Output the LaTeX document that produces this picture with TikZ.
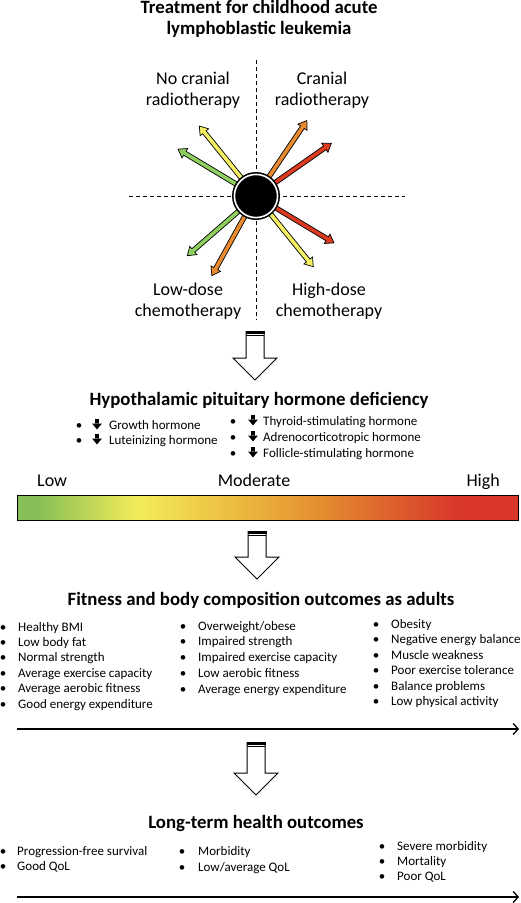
\documentclass[tikz,border=0pt]{standalone}
\usepackage{fontspec}
\setmainfont{Carlito}
\usetikzlibrary{arrows.meta}
\definecolor{cgreen}{HTML}{86BF55}
\definecolor{cyel}{HTML}{F3EC5A}
\definecolor{cyor}{HTML}{EBB83E}
\definecolor{corange}{HTML}{E3892F}
\definecolor{cred}{HTML}{D8372A}
\definecolor{agreen}{HTML}{8FCF5F}
\definecolor{ayel}{HTML}{F5F063}
\definecolor{aorange}{HTML}{E88A2F}
\definecolor{ared}{HTML}{DC3B1F}
\pgfdeclarehorizontalshading{heat}{100bp}{color(0bp)=(cgreen); color(27bp)=(cgreen); color(37bp)=(cyel); color(47.5bp)=(cyor); color(56bp)=(corange); color(69bp)=(cred); color(100bp)=(cred)}
\tikzset{
  heading/.style={font=\fontsize{18.8}{22}\selectfont\bfseries, inner sep=0pt, anchor=base},
  quad/.style={font=\fontsize{18}{21}\selectfont, inner sep=0pt, anchor=base},
  scalelbl/.style={font=\fontsize{18}{21}\selectfont, inner sep=0pt},
  item/.style={font=\fontsize{13}{15}\selectfont, inner sep=0pt, anchor=base west},
  bul/.style={font=\fontsize{13}{15}\selectfont, inner sep=0pt, anchor=base},
  axis/.style={line width=1.3pt, -{Straight Barb[length=5pt,width=11pt,line width=1.3pt]}},
  guide/.style={line width=0.9pt, dash pattern=on 4pt off 3pt},
}
\newcommand\fatarr[3]{% angle, length, colour
  \filldraw[fill=#3, draw=black, line width=0.7pt, line join=miter, shift={(256,196)}, rotate=#1]
    (0,-2.3) -- (#2-8,-2.3) -- (#2-8,-5.5) -- (#2,0) -- (#2-8,5.5) -- (#2-8,2.3) -- (0,2.3) -- cycle;}
\newcommand\blockarr[4]{% cx, top, shaft bottom, tip
  \draw[line width=1pt, fill=white, line join=miter] (#1-9,#2) -- (#1-9,#3) -- (#1-22,#3) -- (#1,#4) -- (#1+22,#3) -- (#1+9,#3) -- (#1+9,#2);
  \fill (#1-9.5,#2-0.5) rectangle (#1+9.5,#2+2.6);
  \draw[line width=0.9pt] (#1-9,#2+4.6) -- (#1+9,#2+4.6);}
\newcommand\dnglyph[2]{% x, baseline
  \fill (#1-1.8,#2-9.8) rectangle (#1+1.8,#2-4.8) (#1-4.8,#2-5.3) -- (#1+4.8,#2-5.3) -- (#1,#2+0.4) -- cycle;}
\begin{document}
\begin{tikzpicture}[x=1pt,y=-1pt]
\useasboundingbox (0,0) rectangle (520,903);
% title
\node[heading] (t1) at (259,13) {Treatment for childhood acute};
\node[heading] (t2) at (259,34) {lymphoblastic leukemia};
% quadrant labels
\node[quad] (q1a) at (193,84) {No cranial};
\node[quad] (q1b) at (193,105) {radiotherapy};
\node[quad] (q2a) at (322,84) {Cranial};
\node[quad] (q2b) at (322,105) {radiotherapy};
\node[quad] (q3a) at (188,295) {Low-dose};
\node[quad] (q3b) at (188,316) {chemotherapy};
\node[quad] (q4a) at (329,295) {High-dose};
\node[quad] (q4b) at (329,316) {chemotherapy};
% guides
\coordinate (vt) at (256,60); \coordinate (vb) at (256,320);
\coordinate (hl) at (129,196); \coordinate (hr) at (405,196);
\draw[guide] (vt) -- (vb);
\draw[guide] (hl) -- (hr);
% star arrows
\fatarr{129}{90}{ayel}
\fatarr{149}{91}{agreen}
\fatarr{56}{91}{aorange}
\fatarr{35}{92}{ared}
\fatarr{-31}{91}{ared}
\fatarr{-51}{91}{ayel}
\fatarr{221}{91}{agreen}
\fatarr{241}{91}{aorange}
% centre disc
\node[circle, fill=black, minimum size=48, inner sep=0pt] (c) at (256,196) {};
\draw[white, line width=1.6pt] (c.center) circle (21.6);
% block arrow 1
\blockarr{255}{331}{358}{380}
% hormone deficiency
\node[heading] (h2) at (259,405) {Hypothalamic pituitary hormone deficiency};
\node[bul] (hb1) at (79,429) {•};
\node[bul] (hb2) at (79,444) {•};
\dnglyph{97}{429}\dnglyph{97}{444}
\node[item] (hi1) at (109,429) {Growth hormone};
\node[item] (hi2) at (109,444) {Luteinizing hormone};
\node[bul] (hb3) at (233,425) {•};
\node[bul] (hb4) at (233,441) {•};
\node[bul] (hb5) at (233,457) {•};
\dnglyph{253}{425}\dnglyph{253}{441}\dnglyph{253}{457}
\node[item] (hi3) at (263,425) {Thyroid-stimulating hormone};
\node[item] (hi4) at (263,441) {Adrenocorticotropic hormone};
\node[item] (hi5) at (263,457) {Follicle-stimulating hormone};
% scale
\node[scalelbl, anchor=base west] (lo) at (37,486) {Low};
\node[scalelbl, anchor=base] (mo) at (254,486) {Moderate};
\node[scalelbl, anchor=base east] (hi) at (500,486) {High};
\shade[shading=heat] (17,495) rectangle (518,520);
\draw[line width=1pt] (17,495) rectangle (518,520);
% block arrow 2
\blockarr{257}{531}{557}{579}
% fitness
\node[heading] (h3) at (261,605) {Fitness and body composition outcomes as adults};
\foreach \t [count=\i from 0] in {Healthy BMI, Low body fat, Normal strength, Average exercise capacity, Average aerobic fitness, Good energy expenditure}{
  \node[bul] (fb\i) at (3,631+15.4*\i) {•};
  \node[item] (fa\i) at (18,631+15.4*\i) {\t};}
\foreach \t [count=\i from 0] in {Overweight/obese, Impaired strength, Impaired exercise capacity, Low aerobic fitness, Average energy expenditure}{
  \node[bul] (gb\i) at (183,630+15.8*\i) {•};
  \node[item] (ga\i) at (198,630+15.8*\i) {\t};}
\foreach \t [count=\i from 0] in {Obesity, Negative energy balance, Muscle weakness, Poor exercise tolerance, Balance problems, Low physical activity}{
  \node[bul] (kb\i) at (376,628+15.5*\i) {•};
  \node[item] (ka\i) at (391,628+15.5*\i) {\t};}
\coordinate (a1s) at (17,729); \coordinate (a1e) at (519,729);
\draw[axis] (a1s) -- (a1e);
% block arrow 3
\blockarr{256}{742}{773}{795}
% long-term
\node[heading] (h4) at (256,828) {Long-term health outcomes};
\node[bul] (lb0) at (3,855) {•}; \node[item] (la0) at (17,855) {Progression-free survival};
\node[bul] (lb1) at (3,870) {•}; \node[item] (la1) at (17,870) {Good QoL};
\node[bul] (mb0) at (182,855) {•}; \node[item] (ma0) at (198,855) {Morbidity};
\node[bul] (mb1) at (182,871) {•}; \node[item] (ma1) at (198,871) {Low/average QoL};
\node[bul] (rb0) at (382,850) {•}; \node[item] (ra0) at (397,850) {Severe morbidity};
\node[bul] (rb1) at (382,865) {•}; \node[item] (ra1) at (397,865) {Mortality};
\node[bul] (rb2) at (382,880) {•}; \node[item] (ra2) at (397,880) {Poor QoL};
\coordinate (a2s) at (17,897); \coordinate (a2e) at (519,897);
\draw[axis] (a2s) -- (a2e);
\end{tikzpicture}
\end{document}
